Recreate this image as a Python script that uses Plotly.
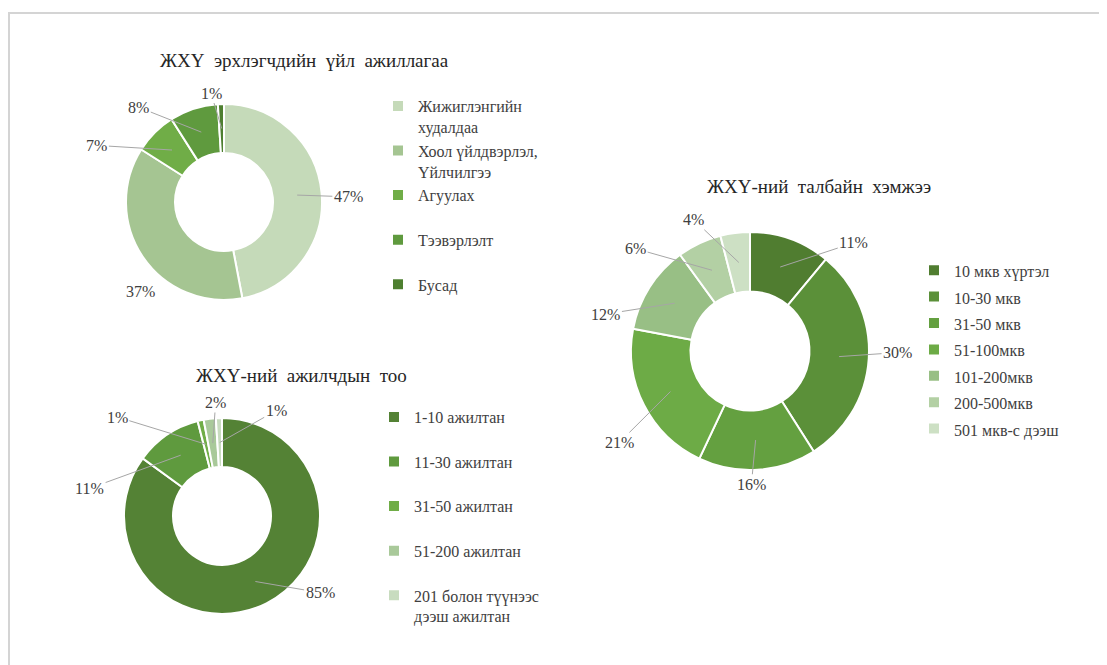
import numpy as np
import plotly.graph_objects as go

# the page puts the figure 8px in from the window corner
OFF = 8
W, H = 1107 - OFF, 665 - OFF
FONT = "Liberation Serif"

# --- data -------------------------------------------------------------
act_title = "ЖХҮ эрхлэгчдийн үйл ажиллагаа"
act_labels = ["Жижиглэнгийн худалдаа", "Хоол үйлдвэрлэл, Үйлчилгээ", "Агуулах", "Тээвэрлэлт", "Бусад"]
act_values = [47, 37, 7, 8, 1]

emp_title = "ЖХҮ-ний ажилчдын тоо"
emp_labels = ["1-10 ажилтан", "11-30 ажилтан", "31-50 ажилтан", "51-200 ажилтан", "201 болон түүнээс дээш ажилтан"]
emp_values = [85, 11, 1, 2, 1]

area_title = "ЖХҮ-ний талбайн хэмжээ"
area_labels = ["10 мкв хүртэл", "10-30 мкв", "31-50 мкв", "51-100мкв", "101-200мкв", "200-500мкв", "501 мкв-с дээш"]
area_values = [11, 30, 16, 21, 12, 6, 4]

# --- styling ----------------------------------------------------------
act_colors = ["#c5dab9", "#a5c592", "#70ad47", "#5f9a3e", "#4e7f30"]
emp_colors = ["#548235", "#5f9a3e", "#70ad47", "#a9c99a", "#c8dcbf"]
area_colors = ["#507d30", "#5b9039", "#64a040", "#6dab46", "#98bf85", "#b3d0a4", "#cde0c4"]

# legend text with line breaks like the original (blank 2nd line keeps spacing)
act_legend = ["Жижиглэнгийн<br>худалдаа", "Хоол үйлдвэрлэл,<br>Үйлчилгээ", "Агуулах<br> ", "Тээвэрлэлт<br> ", "Бусад<br> "]
emp_legend = ["1-10 ажилтан<br> ", "11-30 ажилтан<br> ", "31-50 ажилтан<br> ", "51-200 ажилтан<br> ",
              "201 болон түүнээс<br>дээш ажилтан"]
area_legend = ['<span style="font-size:16px">%s</span>' % s for s in area_labels]

# pie boxes in window pixels: centre x, centre y, radius
act_box = (224, 202, 98)
emp_box = (222, 516, 98)
area_box = (750, 351, 119)

# label placement: (angle nudge in deg, radius factor, show leader line)
act_lbl = [(3, 1.27, 1), (-13, 1.25, 0), (-21, 1.42, 1), (-24, 1.30, 1), (-5, 1.12, 1)]
emp_lbl = [(-25, 1.27, 1), (-44, 1.38, 1), (-34, 1.47, 1), (4, 1.16, 1), (29, 1.21, 1)]
area_lbl = [(24, 1.26, 1), (-3, 1.24, 1), (3, 1.12, 1), (-8, 1.34, 1), (-18, 1.25, 1), (-23, 1.29, 1), (-16, 1.2, 1)]


def px(x):
    return (x - OFF) / W


def py(y):
    return 1 - (y - OFF) / H


fig = go.Figure()
annotations = []


def add_donut(legend_text, values, colors, box, lbl, legend_id):
    cx, cy, R = box
    fig.add_trace(go.Pie(
        labels=legend_text, values=values, sort=False, direction="clockwise",
        hole=0.5, textinfo="none", hoverinfo="skip",
        marker=dict(colors=colors, line=dict(color="white", width=2)),
        domain=dict(x=[px(cx - R), px(cx + R)], y=[py(cy + R), py(cy - R)]),
        legend=legend_id,
    ))
    vals = np.array(values, dtype=float)
    mids = (np.cumsum(vals) - vals / 2) / vals.sum() * 360
    for v, a, (nudge, rf, line) in zip(values, mids, lbl):
        ar = np.radians(a)
        tx = cx + 0.75 * R * np.sin(ar)
        ty = cy - 0.75 * R * np.cos(ar)
        br = np.radians(a + nudge)
        lx = cx + rf * R * np.sin(br)
        ly = cy - rf * R * np.cos(br)
        annotations.append(dict(
            x=px(tx), y=py(ty), xref="paper", yref="paper",
            ax=lx - tx, ay=ly - ty, text="%d%%" % v,
            showarrow=True, arrowhead=0, arrowwidth=1, standoff=0,
            arrowcolor="#a6a6a6" if line else "rgba(0,0,0,0)",
            font=dict(family=FONT, size=16, color="#404040"),
        ))


add_donut(act_legend, act_values, act_colors, act_box, act_lbl, "legend")
add_donut(emp_legend, emp_values, emp_colors, emp_box, emp_lbl, "legend2")
add_donut(area_legend, area_values, area_colors, area_box, area_lbl, "legend3")

# titles are set with wide word spacing in the original
for t, x, y in [(act_title, 304, 60), (emp_title, 301, 375), (area_title, 819, 186)]:
    annotations.append(dict(text=t.replace(" ", " \u00a0"), x=px(x), y=py(y), xref="paper", yref="paper",
                            showarrow=False, xanchor="center", yanchor="middle",
                            font=dict(family=FONT, size=19, color="#262626")))

leg = dict(font=dict(family=FONT, size=16, color="#404040"), valign="top",
           bgcolor="rgba(0,0,0,0)", xanchor="left", yanchor="top")

fig.update_layout(
    width=W, height=H,
    margin=dict(l=0, r=0, t=0, b=0),
    paper_bgcolor="white", plot_bgcolor="white",
    showlegend=True,
    legend=dict(leg, x=px(378), y=py(89)),
    legend2=dict(leg, x=px(374), y=py(400)),
    legend3=dict(leg, x=px(914), y=py(252), font=dict(family=FONT, size=18, color="#404040")),
    annotations=annotations,
    shapes=[
        dict(type="line", xref="paper", yref="paper", x0=0, x1=1, y0=py(13), y1=py(13),
             line=dict(color="#d4d4d4", width=2)),
        dict(type="line", xref="paper", yref="paper", x0=1 / W, x1=1 / W, y0=0, y1=py(13),
             line=dict(color="#d4d4d4", width=2)),
    ],
)

fig.write_html("out.html")
